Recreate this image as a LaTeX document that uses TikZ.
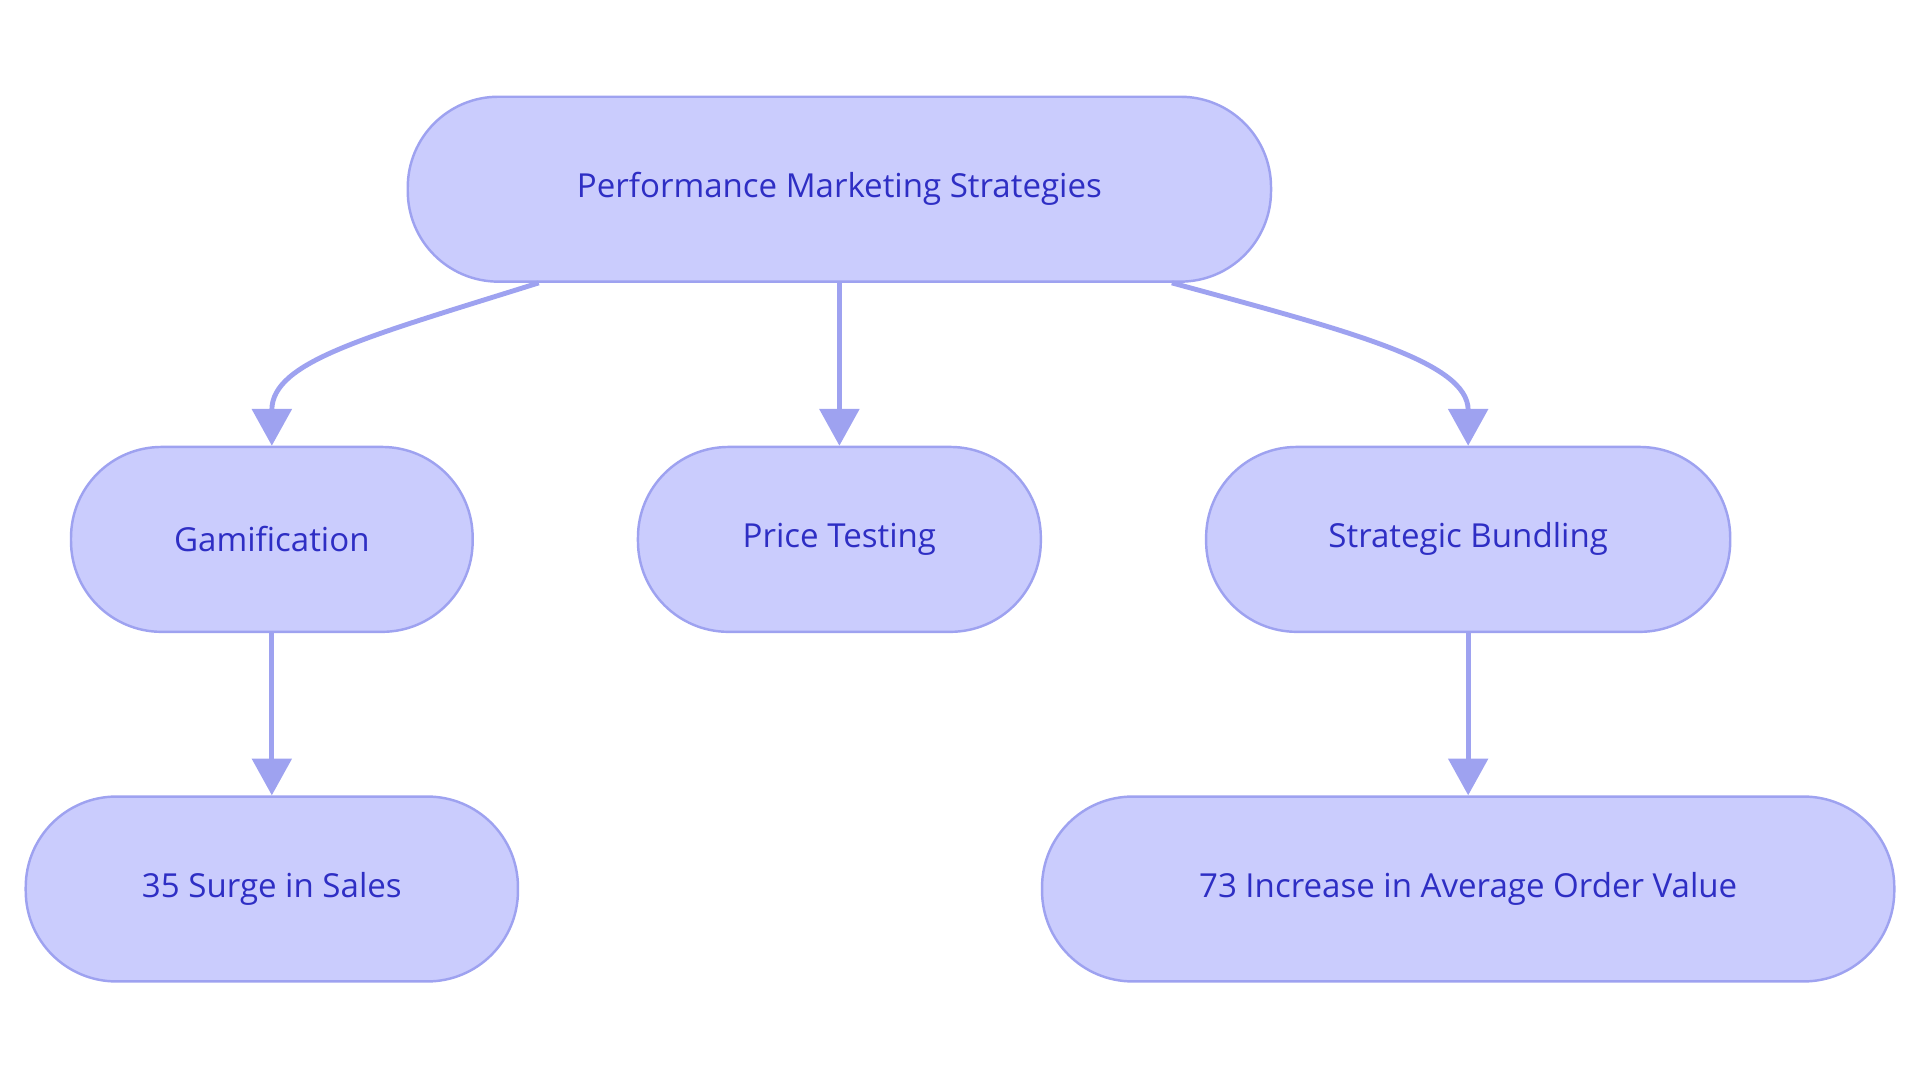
\documentclass[tikz,border=0pt]{standalone}
\usepackage{fontspec}
\setmainfont{Open Sans}
\usetikzlibrary{arrows.meta}
\definecolor{fillc}{HTML}{CACCFD}
\definecolor{linec}{HTML}{9EA2F0}
\definecolor{textc}{HTML}{2E2EC4}
\tikzset{
  box/.style={draw=linec, fill=fillc, line width=2pt, rounded corners=74pt, minimum height=151pt, text=textc, font=\fontsize{27}{32}\selectfont, inner sep=0pt},
  conn/.style={draw=linec, line width=4pt, -{Triangle[length=30pt,width=32pt]}}
}
\begin{document}
\begin{tikzpicture}[x=1pt,y=-1pt]
\useasboundingbox (0,0) rectangle (1568,884);
\node[box, minimum width=705pt] (top) at (685.5,154.5) {Performance Marketing Strategies};
\node[box, minimum width=328pt] (gam) at (222,440.5) {Gamification};
\node[box, minimum width=329pt] (price) at (685.5,440.5) {Price Testing};
\node[box, minimum width=428pt] (bund) at (1199,440.5) {Strategic Bundling};
\node[box, minimum width=402pt] (s35) at (222,726) {35 Surge in Sales};
\node[box, minimum width=696pt] (s73) at (1199,726) {73 Increase in Average Order Value};
\coordinate (t1) at (440,231);
\coordinate (t3) at (957,231);
\draw[conn] (t1) .. controls (300,275) and (222,295) .. (gam.north);
\draw[conn] (top.south) -- (price.north);
\draw[conn] (t3) .. controls (1100,270) and (1199,295) .. (bund.north);
\draw[conn] (gam.south) -- (s35.north);
\draw[conn] (bund.south) -- (s73.north);
\end{tikzpicture}
\end{document}
